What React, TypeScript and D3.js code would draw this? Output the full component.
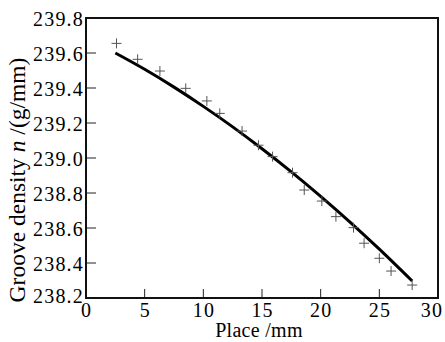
import { useRef, useEffect } from 'react';
import * as d3 from 'd3';

// Measured groove density at each place (crosses)
const measuredPlace = [2.6, 4.4, 6.3, 8.5, 10.3, 11.4, 13.3, 14.7, 15.9, 17.6, 18.6, 20.1, 21.3, 22.8, 23.7, 25.0, 26.0, 27.8];
const measuredDensity = [239.655, 239.564, 239.497, 239.398, 239.326, 239.255, 239.154, 239.073, 239.008, 238.916, 238.817, 238.754, 238.665, 238.602, 238.513, 238.427, 238.354, 238.274];

// Fitted curve
const fitPlace = [2.5, 5, 7.5, 10, 12.5, 15, 17.5, 20, 22.5, 25, 27.8];
const fitDensity = [239.6, 239.507, 239.405, 239.295, 239.178, 239.053, 238.921, 238.781, 238.634, 238.479, 238.297];

const xTicks = [0, 5, 10, 15, 20, 25, 30];
const yTicks = [238.2, 238.4, 238.6, 238.8, 239.0, 239.2, 239.4, 239.6, 239.8];

const FONT = 'Liberation Serif';

export default function App() {
  const ref = useRef<SVGSVGElement>(null);

  useEffect(() => {
    if (!ref.current) return;
    const svg = d3.select(ref.current);
    svg.selectAll('*').remove();

    const left = 86, right = 438, top = 18, bottom = 298;
    const x = d3.scaleLinear().domain([0, 30]).range([left, right]);
    const y = d3.scaleLinear().domain([238.2, 239.8]).range([bottom, top]);

    // Ticks (inward)
    xTicks.forEach(t => {
      svg.append('line')
        .attr('x1', x(t)).attr('x2', x(t))
        .attr('y1', bottom).attr('y2', bottom - 9)
        .attr('stroke', '#222').attr('stroke-width', 1);
      // last label pulled in so it stays on the page
      svg.append('text')
        .attr('x', t === 30 ? x(t) - 6 : x(t) + 0.6).attr('y', 317)
        .attr('text-anchor', 'middle')
        .attr('font-family', FONT).attr('font-size', 20)
        .attr('letter-spacing', 1.2)
        .text(String(t));
    });

    yTicks.forEach(t => {
      svg.append('line')
        .attr('x1', left).attr('x2', left + 10)
        .attr('y1', y(t)).attr('y2', y(t))
        .attr('stroke', '#222').attr('stroke-width', 1);
      svg.append('text')
        .attr('x', 84).attr('y', y(t) + (t < 238.3 ? 5 : 8))
        .attr('text-anchor', 'end')
        .attr('font-family', FONT).attr('font-size', 20)
        .attr('letter-spacing', 1.2)
        .text(t.toFixed(1));
    });

    // Frame
    svg.append('rect')
      .attr('x', left).attr('y', top)
      .attr('width', right - left).attr('height', bottom - top)
      .attr('fill', 'none').attr('stroke', '#111').attr('stroke-width', 2);

    // Fitted curve
    const fit = fitPlace.map((p, i) => [p, fitDensity[i]] as [number, number]);
    const line = d3.line<[number, number]>()
      .x(d => x(d[0])).y(d => y(d[1]))
      .curve(d3.curveMonotoneX);
    svg.append('path')
      .attr('d', line(fit) || '')
      .attr('fill', 'none').attr('stroke', '#000').attr('stroke-width', 3);

    // Measured points as crosses
    measuredPlace.forEach((p, i) => {
      const cx = x(p), cy = y(measuredDensity[i]);
      svg.append('path')
        .attr('d', `M${cx - 5},${cy}H${cx + 5}M${cx},${cy - 5}V${cy + 5}`)
        .attr('stroke', '#555').attr('stroke-width', 1).attr('fill', 'none');
    });

    // Axis titles
    svg.append('text')
      .attr('x', 259).attr('y', 337)
      .attr('text-anchor', 'middle')
      .attr('font-family', FONT).attr('font-size', 20)
      .attr('letter-spacing', 0.3)
      .text('Place /mm');

    const yt = svg.append('text')
      .attr('transform', 'translate(25,180) rotate(-90)')
      .attr('text-anchor', 'middle')
      .attr('font-family', FONT).attr('font-size', 23.5);
    yt.append('tspan').text('Groove density ');
    yt.append('tspan').attr('font-style', 'italic').text('n');
    yt.append('tspan').text(' /(g/mm)');
  }, []);

  return (
    <div style={{ position: 'absolute', left: 0, top: 0 }}>
      <svg ref={ref} width={445} height={342} style={{ display: 'block', background: '#fff' }}></svg>
    </div>
  );
}
